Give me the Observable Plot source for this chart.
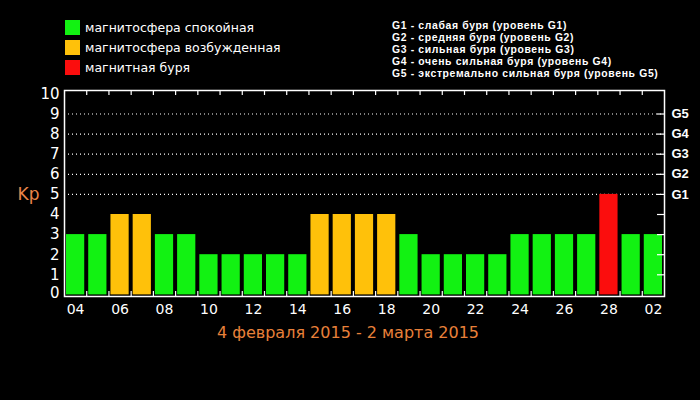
<!DOCTYPE html>
<html><head><meta charset="utf-8">
<script src="https://cdn.jsdelivr.net/npm/d3@7"></script>
<script src="https://cdn.jsdelivr.net/npm/@observablehq/plot@0.6"></script>
<style>
body{margin:0;background:#000;}
#wrap{position:relative;width:700px;height:400px;background:#000;overflow:hidden;font-family:"DejaVu Sans",sans-serif;color:#fff}
#chart{position:absolute;left:0;top:0}
.leg{position:absolute;left:65px;height:15px;line-height:15px;font-size:12.5px;white-space:nowrap}
.sw{display:inline-block;width:15px;height:15px;vertical-align:top;margin-right:5px}
#glev{position:absolute;left:392px;top:20px;font-family:"Liberation Sans",sans-serif;font-weight:bold;font-size:10.4px;letter-spacing:0.65px;line-height:12px;white-space:nowrap}
#glev div{height:12px;overflow:visible}
#cap{position:absolute;left:0;width:696px;top:324px;text-align:center;font-size:16px;line-height:18px;color:#e8803a}
</style>
</head><body>
<div id="wrap"><div id="chart"></div><div id="legend"></div><div id="glev"></div><div id="cap"></div></div>
<script>
// Data
const days = ["04","05","06","07","08","09","10","11","12","13","14","15","16","17","18","19","20","21","22","23","24","25","26","27","28","01","02"];
const kp   = [3,3,4,4,3,3,2,2,2,2,2,4,4,4,4,3,2,2,2,2,3,3,3,3,5,3,3];
const categories = ["магнитосфера спокойная","магнитосфера возбужденная","магнитная буря"];
const catColors = ["#12f212","#ffc10a","#fb0d0d"];
const gTicks = ["G1","G2","G3","G4","G5"];
const gLevels = [5,6,7,8,9];
const gLabels = [
  "G1 - слабая буря (уровень G1)",
  "G2 - средняя буря (уровень G2)",
  "G3 - сильная буря (уровень G3)",
  "G4 - очень сильная буря (уровень G4)",
  "G5 - экстремально сильная буря (уровень G5)"
];
const yLabel = "Kp";
const caption = "4 февраля 2015 - 2 марта 2015";

const data = days.map((d, i) => ({i, day: d, kp: kp[i], cat: categories[kp[i] >= 5 ? 2 : kp[i] >= 4 ? 1 : 0]}));
const labelTicks = d3.range(0, days.length, 2).map(i => i + 0.5);
const bounds = d3.range(1, days.length);

const chart = Plot.plot({
  width: 700, height: 400,
  marginLeft: 64, marginRight: 36, marginTop: 90, marginBottom: 104,
  style: {background: "black", color: "white", fontFamily: "DejaVu Sans"},
  x: {domain: [0, days.length]},
  y: {domain: [-0.08, 10.17]},
  color: {domain: categories, range: catColors},
  marks: [
    Plot.ruleY(gLevels, {y: d => d, stroke: "white", strokeDasharray: "1,3", strokeWidth: 1.2}),
    Plot.rectY(data, {x1: "i", x2: d => d.i + 1, y1: 0, y2: "kp", fill: "cat", insetLeft: 2, insetRight: 2}),
    Plot.ruleX(bounds, {x: d => d, stroke: "white", strokeWidth: 1.2, insetTop: 201}),
    Plot.ruleX(bounds, {x: d => d, stroke: "white", strokeWidth: 1.2, insetBottom: 201}),
    Plot.ruleY(d3.range(1, 10), {y: d => d, stroke: "white", strokeWidth: 1.2, insetLeft: 593}),
    Plot.frame({stroke: "white", strokeWidth: 1.5}),
    Plot.axisX({ticks: labelTicks, tickFormat: d => days[Math.floor(d)], tickSize: 0, tickPadding: 8, fontSize: 14, fill: "white", label: null}),
    Plot.axisY({ticks: d3.range(1, 11), tickFormat: d => String(d), tickSize: 0, tickPadding: 5, fontSize: 15, fill: "white", label: null}),
    Plot.axisY({ticks: [0], tickFormat: d => String(d), tickSize: 0, tickPadding: 5, dy: -2, fontSize: 15, fill: "white", label: null}),
    Plot.axisY({anchor: "right", ticks: gLevels, tickFormat: d => gTicks[d - 5], tickSize: 0, tickPadding: 7, fontSize: 13, fontWeight: "bold", fontFamily: "Liberation Sans", fill: "white", label: null}),
    Plot.text([yLabel], {text: d => d, frameAnchor: "left", y: 5, dx: -36, fontSize: 17, fill: "#e8854a", textAnchor: "middle"})
  ]
});
document.getElementById("chart").appendChild(chart);

const leg = document.getElementById("legend");
categories.forEach((c, k) => {
  const row = document.createElement("div");
  row.className = "leg";
  row.style.top = (20 + k * 20) + "px";
  const sw = document.createElement("span");
  sw.className = "sw";
  sw.style.background = catColors[k];
  row.appendChild(sw);
  row.appendChild(document.createTextNode(c));
  leg.appendChild(row);
});
const gl = document.getElementById("glev");
gLabels.forEach(t => { const d = document.createElement("div"); d.textContent = t; gl.appendChild(d); });
document.getElementById("cap").textContent = caption;
</script>
</body></html>
